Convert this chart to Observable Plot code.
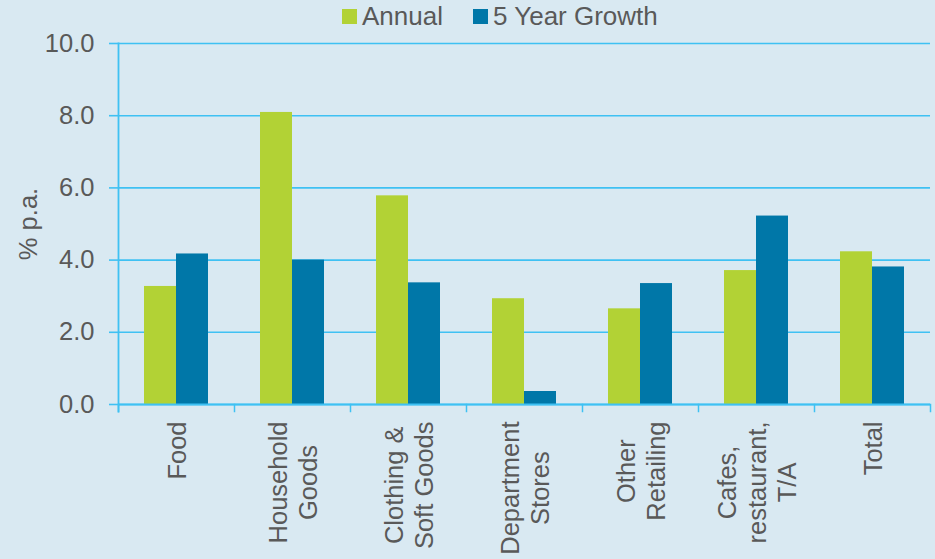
<!DOCTYPE html>
<html><head><meta charset="utf-8">
<script src="https://cdn.jsdelivr.net/npm/d3@7"></script>
<script src="https://cdn.jsdelivr.net/npm/@observablehq/plot@0.6"></script>
<style>
html,body{margin:0;padding:0;background:#d9e9f2;}
#chart{width:935px;height:559px;background:#d9e9f2;font-family:"Liberation Sans",Arial,sans-serif;color:#595959;overflow:hidden;position:relative}
#legend{height:33px;position:relative}
.item{position:absolute;top:0;height:33px;display:flex;align-items:center;font-size:26px;line-height:33px;white-space:nowrap}
.sw{width:15px;height:15px;margin-right:5px;flex:none}
svg{display:block;overflow:visible}
</style></head><body><div id="chart"><div id="legend"></div></div>
<script>
const categories = ["Food", "Household\nGoods", "Clothing &\nSoft Goods", "Department\nStores", "Other\nRetailing", "Cafes,\nrestaurant,\nT/A", "Total"];
const series = ["Annual", "5 Year Growth"];
const annual = [3.27, 8.09, 5.78, 2.93, 2.65, 3.71, 4.23];
const growth = [4.17, 4.00, 3.37, 0.36, 3.35, 5.22, 3.81];
const yTicks = [0, 2, 4, 6, 8, 10];
const yLabel = "% p.a.";

const colors = ["#b2d235", "#0077a8"];
const grid = "#3fc1f3";
const textColor = "#595959";
const fs = 25.5;
const font = '"Liberation Sans", Arial, sans-serif';

const rows = categories.flatMap((c, i) => [
  {category: c, series: series[0], value: annual[i]},
  {category: c, series: series[1], value: growth[i]}
]);

// legend
const legend = document.getElementById("legend");
const legendLeft = [342, 473];
series.forEach((s, i) => {
  const it = document.createElement("div");
  it.className = "item";
  it.style.left = legendLeft[i] + "px";
  const sw = document.createElement("span");
  sw.className = "sw";
  sw.style.background = colors[i];
  const tx = document.createElement("span");
  tx.textContent = s;
  it.appendChild(sw); it.appendChild(tx);
  legend.appendChild(it);
});

// measure label lines for top-aligned, center-justified rotated labels
const ctx = document.createElement("canvas").getContext("2d");
ctx.font = `${fs}px ${font}`;
const maxLineWidth = c => Math.max(...c.split("\n").map(l => ctx.measureText(l).width));

const plotH = 526, mTop = 10, mBottom = 155;
const innerH = plotH - mTop - mBottom;

const labelMarks = categories.map(c => Plot.text([c], {
  fx: d => d, text: d => d, frameAnchor: "bottom", rotate: -90,
  textAnchor: "middle", lineAnchor: "middle", lineHeight: 1.18,
  fontSize: fs, fill: textColor, dy: 17 + maxLineWidth(c) / 2
}));

const svg = Plot.plot({
  width: 935, height: plotH,
  marginTop: mTop, marginBottom: mBottom, marginLeft: 117, marginRight: 5,
  style: {fontFamily: font, fontSize: fs + "px", color: textColor, background: "transparent"},
  fx: {domain: categories, padding: 0, axis: null},
  x: {domain: series, paddingInner: 0, paddingOuter: 0.76, axis: null},
  y: {domain: [0, 10], axis: null},
  color: {domain: series, range: colors},
  marks: [
    Plot.ruleY(yTicks, {stroke: grid, strokeWidth: 1.6}),
    Plot.barY(rows, {fx: "category", x: "series", y: "value", fill: "series"}),
    Plot.ruleY([0], {stroke: grid, strokeWidth: 1.8}),
    Plot.frame({anchor: "left", facetAnchor: "left", insetBottom: -7, stroke: grid, strokeWidth: 1.8}),
    Plot.frame({anchor: "left", insetTop: innerH, insetBottom: -7, stroke: grid, strokeWidth: 1.5}),
    Plot.frame({anchor: "right", facetAnchor: "right", insetTop: innerH, insetBottom: -7, stroke: grid, strokeWidth: 1.5}),
    Plot.axisY({ticks: yTicks, tickFormat: d => d.toFixed(1), tickSize: 9, tickPadding: 15,
      stroke: grid, strokeWidth: 1.6, fill: textColor, fontSize: fs, label: null}),
    Plot.text([yLabel], {text: d => d, frameAnchor: "left", facetAnchor: "left", rotate: -90,
      textAnchor: "middle", lineAnchor: "middle", dx: -90, fontSize: fs, fill: textColor}),
    ...labelMarks
  ]
});
document.getElementById("chart").appendChild(svg);
</script>
</body></html>
